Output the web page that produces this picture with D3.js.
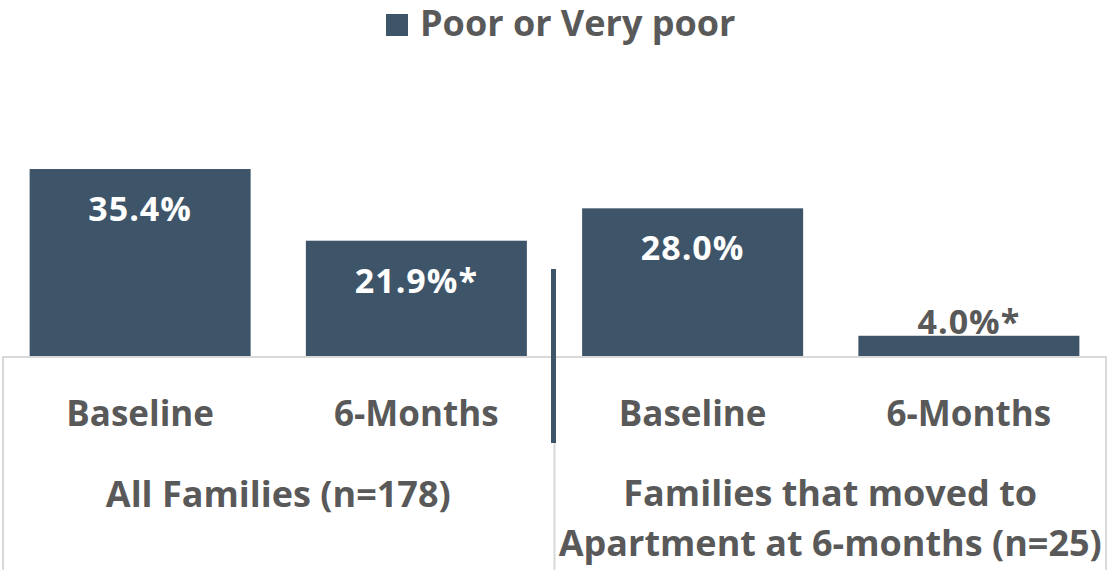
<!DOCTYPE html>
<html>
<head>
<meta charset="utf-8">
<script src="https://cdn.jsdelivr.net/npm/d3@7"></script>
<style>
  html,body{margin:0;padding:0;background:#fff;}
  svg{display:block;font-family:"Open Sans",sans-serif;font-weight:700;}
  .lbl{fill:#595959;}
</style>
</head>
<body>
<div id="chart"></div>
<script>
/* Poor or Very poor — grouped bars with two-level category axis */
var categories=["Baseline","6-Months","Baseline","6-Months"];
var groups=["All Families (n=178)",["Families that moved to","Apartment at 6-months (n=25)"]];
var values=[35.4,21.9,28.0,4.0];
var valueLabels=["35.4%","21.9%*","28.0%","4.0%*"];
var seriesName="Poor or Very poor";

var W=1107,H=570, barColor="#3e5569", gridColor="#d9d9d9", textColor="#595959";
var svg=d3.select("#chart").append("svg").attr("width",W).attr("height",H);

var x=d3.scaleBand().domain(d3.range(values.length)).range([2,1107]).paddingInner(0.2).paddingOuter(0.1);
var y=d3.scaleLinear().domain([0,40]).range([357,357-5.31*40]);

/* legend */
var leg=svg.append("g").attr("transform","translate(386,14)");
leg.append("rect").attr("width",22).attr("height",22).attr("fill",barColor);
leg.append("text").attr("class","lbl").attr("x",34).attr("y",22).attr("font-size",36).text(seriesName);

/* bars */
svg.selectAll("rect.bar").data(values).enter().append("rect").attr("class","bar")
  .attr("x",function(d,i){return x(i);}).attr("y",function(d){return y(d);})
  .attr("width",x.bandwidth()).attr("height",function(d){return y(0)-y(d);})
  .attr("fill",barColor);

/* value labels: inside top for tall bars, above for short ones */
svg.selectAll("text.val").data(values).enter().append("text").attr("class","val")
  .attr("x",function(d,i){return x(i)+x.bandwidth()/2;})
  .attr("y",function(d){return (y(0)-y(d))>60 ? y(d)+52 : y(d)-2;})
  .attr("text-anchor","middle").attr("font-size",34).attr("letter-spacing",1)
  .attr("fill",function(d){return (y(0)-y(d))>60?"#fff":textColor;})
  .text(function(d,i){return valueLabels[i];});

/* category axis frame */
var ax=svg.append("g").attr("stroke",gridColor).attr("stroke-width",2);
ax.append("line").attr("x1",2).attr("x2",W).attr("y1",y(0)).attr("y2",y(0));
var mid=(x(1)+x.bandwidth()+x(2))/2;
[3,mid,1106].forEach(function(v){
  ax.append("line").attr("x1",v).attr("x2",v).attr("y1",y(0)).attr("y2",H);
});

/* dark divider between groups */
svg.append("line").attr("x1",mid-1).attr("x2",mid-1).attr("y1",269).attr("y2",443)
  .attr("stroke",barColor).attr("stroke-width",5);

svg.selectAll("text.cat").data(categories).enter().append("text").attr("class","cat lbl")
  .attr("x",function(d,i){return x(i)+x.bandwidth()/2;}).attr("y",426)
  .attr("text-anchor","middle").attr("font-size",35).text(function(d){return d;});

var gx=[(2+mid)/2,(mid+1106)/2];
groups.forEach(function(g,i){
  var lines=Array.isArray(g)?g:[g];
  var t=svg.append("text").attr("class","lbl").attr("text-anchor","middle").attr("font-size",36);
  lines.forEach(function(s,j){
    t.append("tspan").attr("x",gx[i]).attr("y",(lines.length>1?506:507)+j*50).text(s);
  });
});
</script>
</body>
</html>
